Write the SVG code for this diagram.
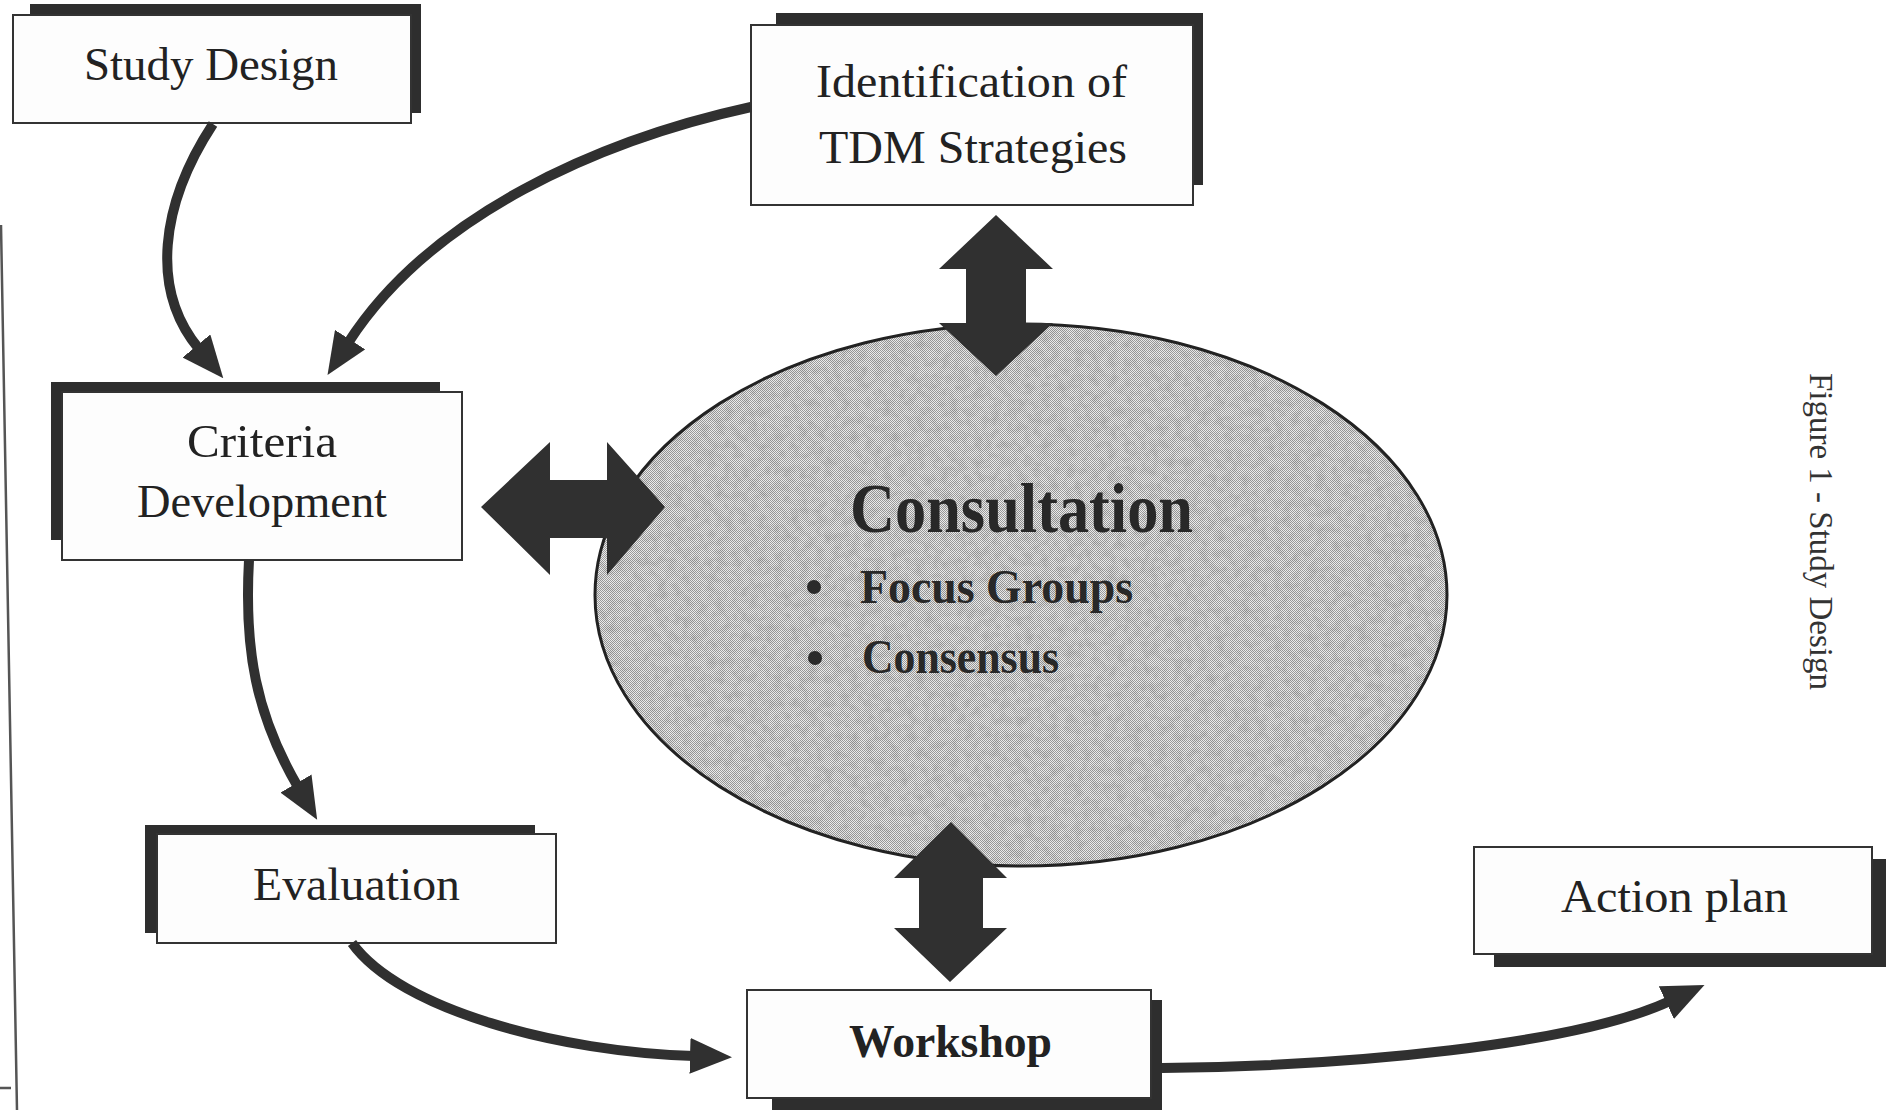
<svg xmlns="http://www.w3.org/2000/svg" width="1891" height="1110" viewBox="0 0 1891 1110">
  <style>
    .shadow { fill: #2e2e2e; }
    .box { fill: #fdfdfd; stroke: #333333; stroke-width: 2; }
    .label { font-family: "Liberation Serif", "Times New Roman", serif; font-size: 47px; fill: #222222; }
    .bold { font-weight: bold; }
    .link { fill: none; stroke: #303030; stroke-width: 10; stroke-linecap: butt; }
    .fat { fill: #303030; }
    .inner { font-family: "Liberation Serif", "Times New Roman", serif; font-weight: bold; fill: #282828; }
    .caption { font-family: "Liberation Serif", "Times New Roman", serif; font-size: 33px; fill: #333333; }
  </style>
  <defs>
    <marker id="head" markerUnits="userSpaceOnUse" markerWidth="42" markerHeight="36" viewBox="0 0 42 36" refX="4" refY="18" orient="auto">
      <path d="M0,0 L42,18 L0,36 Z" fill="#303030"/>
    </marker>
    <!-- fine halftone screen for the central ellipse -->
    <pattern id="halftone" patternUnits="userSpaceOnUse" width="2" height="2">
      <rect width="2" height="2" fill="#ececec"/>
      <rect x="0" y="0" width="1" height="1" fill="#9a9a9a"/>
      <rect x="1" y="1" width="1" height="1" fill="#9a9a9a"/>
    </pattern>
    <filter id="grain" x="0" y="0" width="100%" height="100%">
      <feTurbulence type="fractalNoise" baseFrequency="0.12" numOctaves="3" seed="7" result="n"/>
      <feColorMatrix in="n" type="matrix" values="0 0 0 0 0  0 0 0 0 0  0 0 0 0 0  1.6 0 0 0 -0.6" result="a"/>
      <feComposite in="a" in2="SourceGraphic" operator="in"/>
    </filter>
  </defs>

  <rect width="1891" height="1110" fill="#ffffff"/>

  <!-- page edge -->
  <path d="M1,225 L17,1110 M0,1088 L11,1088" fill="none" stroke="#555555" stroke-width="2.5"/>

  <!-- caption -->
  <text class="caption" transform="translate(1810,373) rotate(90)" textLength="317" lengthAdjust="spacingAndGlyphs">Figure 1 - Study Design</text>

  <g id="study-design">
    <rect class="shadow" x="30" y="4" width="391" height="109"/>
    <rect class="box" x="13" y="15" width="398" height="108"/>
    <text class="label" x="84" y="80" textLength="254" lengthAdjust="spacingAndGlyphs">Study Design</text>
  </g>

  <g id="identification">
    <rect class="shadow" x="776" y="13" width="427" height="172"/>
    <rect class="box" x="751" y="25" width="442" height="180"/>
    <text class="label" x="816" y="97" textLength="311" lengthAdjust="spacingAndGlyphs">Identification of</text>
    <text class="label" x="819" y="163" textLength="308" lengthAdjust="spacingAndGlyphs">TDM Strategies</text>
  </g>

  <g id="criteria">
    <rect class="shadow" x="51" y="382" width="389" height="158"/>
    <rect class="box" x="62" y="392" width="400" height="168"/>
    <text class="label" x="187" y="457" textLength="150" lengthAdjust="spacingAndGlyphs">Criteria</text>
    <text class="label" x="137" y="517" textLength="250" lengthAdjust="spacingAndGlyphs">Development</text>
  </g>

  <g id="evaluation">
    <rect class="shadow" x="145" y="825" width="390" height="108"/>
    <rect class="box" x="157" y="834" width="399" height="109"/>
    <text class="label" x="253" y="900" textLength="207" lengthAdjust="spacingAndGlyphs">Evaluation</text>
  </g>

  <g id="workshop">
    <rect class="shadow" x="772" y="1000" width="390" height="110"/>
    <rect class="box" x="747" y="990" width="404" height="108"/>
    <text class="label bold" x="849" y="1057" textLength="203" lengthAdjust="spacingAndGlyphs">Workshop</text>
  </g>

  <g id="action-plan">
    <rect class="shadow" x="1494" y="859" width="392" height="108"/>
    <rect class="box" x="1474" y="847" width="398" height="107"/>
    <text class="label" x="1561" y="912" textLength="227" lengthAdjust="spacingAndGlyphs">Action plan</text>
  </g>

  <g id="consultation">
    <ellipse cx="1021" cy="595" rx="426" ry="271" fill="url(#halftone)"/>
    <ellipse cx="1021" cy="595" rx="426" ry="271" fill="#000000" opacity="0.13" filter="url(#grain)"/>
    <ellipse cx="1021" cy="595" rx="426" ry="271" fill="none" stroke="#222222" stroke-width="3"/>
    <text class="inner" x="850" y="532" font-size="70" textLength="343" lengthAdjust="spacingAndGlyphs">Consultation</text>
    <circle cx="814" cy="587" r="7" fill="#2a2a2a"/>
    <text class="inner" x="860" y="603" font-size="48" textLength="273" lengthAdjust="spacingAndGlyphs">Focus Groups</text>
    <circle cx="815" cy="658" r="7" fill="#2a2a2a"/>
    <text class="inner" x="862" y="673" font-size="48" textLength="197" lengthAdjust="spacingAndGlyphs">Consensus</text>
  </g>

  <g id="connectors">
    <path class="link" d="M213,124 C160,205 150,290 199,349" marker-end="url(#head)"/>
    <path class="link" d="M751,107 C600,140 430,215 348,343" marker-end="url(#head)"/>
    <path class="link" d="M249,560 C244,650 256,715 298,787" marker-end="url(#head)"/>
    <path class="link" d="M352,943 C400,1010 560,1052 694,1056" marker-end="url(#head)"/>
    <path class="link" d="M1162,1068 C1350,1066 1575,1045 1670,1001" marker-end="url(#head)"/>
    <polygon class="fat" points="481,507 550,442 550,480 607,480 607,442 665,507 607,575 607,538 550,538 550,575"/>
    <polygon class="fat" points="996,215 1053,269 1026,269 1026,323 1053,323 996,376 939,323 966,323 966,269 939,269"/>
    <polygon class="fat" points="951,822 1007,878 983,878 983,928 1007,928 950,982 894,928 919,928 919,878 894,878"/>
  </g>
</svg>
